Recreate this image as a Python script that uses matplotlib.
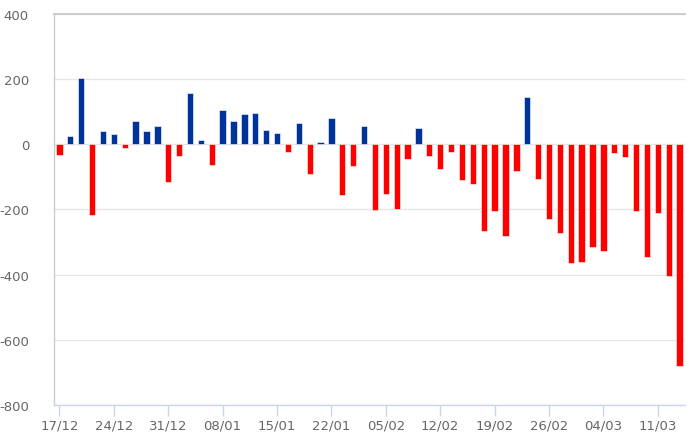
import matplotlib
matplotlib.use("Agg")
import matplotlib.pyplot as plt
from matplotlib.ticker import FixedLocator

dates = [
    "17/12", "18/12", "19/12", "20/12", "23/12",
    "24/12", "25/12", "26/12", "27/12", "30/12",
    "31/12", "02/01", "03/01", "06/01", "07/01",
    "08/01", "09/01", "10/01", "13/01", "14/01",
    "15/01", "16/01", "17/01", "20/01", "21/01",
    "22/01", "23/01", "24/01", "03/02", "04/02",
    "05/02", "06/02", "07/02", "10/02", "11/02",
    "12/02", "13/02", "14/02", "17/02", "18/02",
    "19/02", "20/02", "21/02", "24/02", "25/02",
    "26/02", "27/02", "28/02", "02/03", "03/03",
    "04/03", "05/03", "06/03", "09/03", "10/03",
    "11/03", "12/03", "13/03",
]
values = [
    -32, 27, 204, -218, 41,
    31, -12, 73, 41, 57,
    -117, -36, 158, 14, -64,
    104, 73, 92, 96, 45,
    34, -25, 66, -90, 7,
    81, -157, -67, 57, -203,
    -152, -199, -44, 50, -36,
    -75, -24, -110, -121, -265,
    -205, -280, -82, 146, -106,
    -230, -273, -365, -362, -316,
    -327, -28, -39, -206, -347,
    -210, -404, -680,
]
y_ticks = [-800, -600, -400, -200, 0, 200, 400]

POS = "#003399"
NEG = "#FF0000"

plt.rcParams["font.family"] = ["DejaVu Sans"]
plt.rcParams["axes.unicode_minus"] = False

fig = plt.figure(figsize=(6.89, 4.35), dpi=100)
ax = fig.add_axes([54 / 689, 1 - 406 / 435, (685 - 54) / 689, (406 - 15) / 435])

x = list(range(len(values)))
colors = [POS if v >= 0 else NEG for v in values]
ax.bar(x, values, width=0.58, color=colors, edgecolor="white", linewidth=0.4, zorder=3)

ax.set_xlim(-0.5, len(values) - 0.5)
ax.set_ylim(-800, 400)
ax.yaxis.set_major_locator(FixedLocator(y_ticks))
ax.set_yticklabels([str(t) for t in y_ticks])
tick_pos = list(range(0, len(values), 5))
ax.set_xticks(tick_pos)
ax.set_xticklabels([dates[i] for i in tick_pos])

ax.grid(axis="y", color="#e6e6e6", linewidth=1, zorder=0)
ax.set_axisbelow(True)

for s in ["right"]:
    ax.spines[s].set_visible(False)
ax.spines["top"].set_color("#cccccc")
ax.spines["top"].set_linewidth(1.4)
ax.spines["left"].set_color("#cccccc")
ax.spines["left"].set_linewidth(1.0)
ax.spines["bottom"].set_color("#ccd6eb")
ax.spines["bottom"].set_linewidth(1.0)

ax.tick_params(axis="y", length=0, pad=18, labelsize=9.5, labelcolor="#666666")
ax.tick_params(axis="x", length=8, width=1, color="#ccd6eb", pad=2,
               labelsize=9.5, labelcolor="#666666")

fig.savefig("out.png", dpi=100)
